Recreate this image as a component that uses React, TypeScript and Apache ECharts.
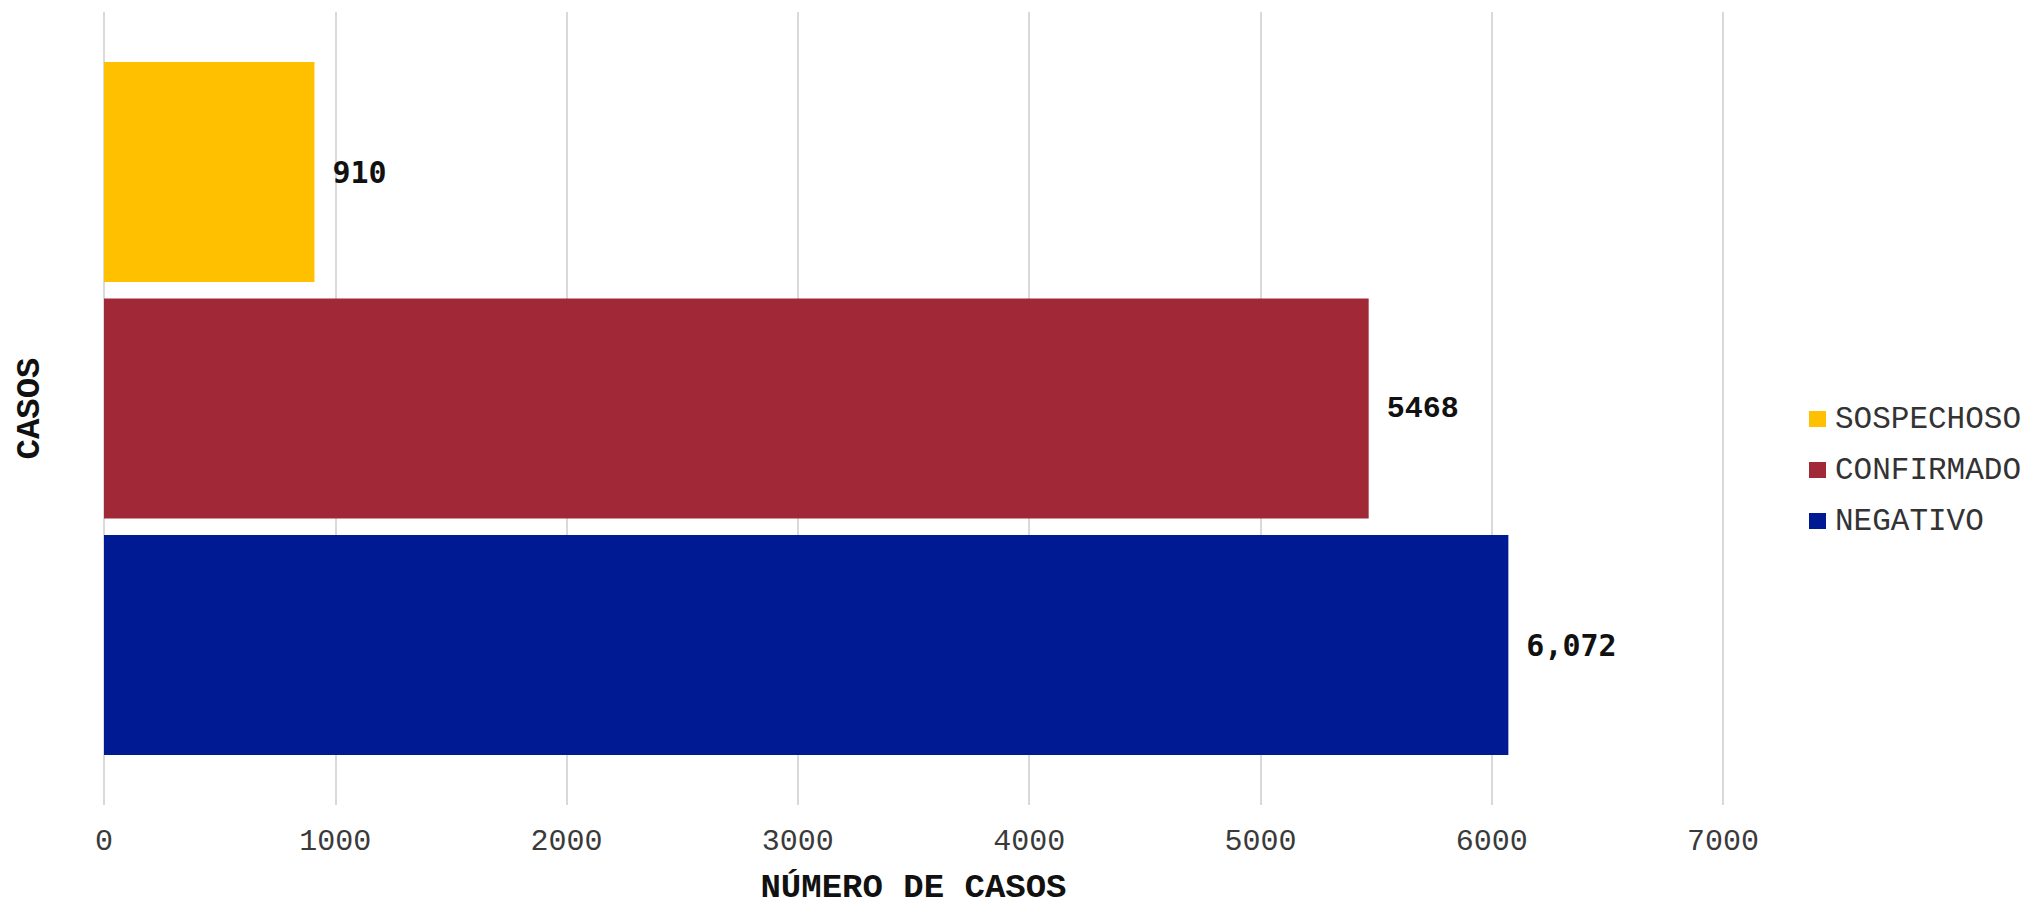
import React, { useEffect, useRef } from "react";
import * as echarts from "echarts";

const categories = ["CASOS"];
const seriesNames = ["SOSPECHOSO", "CONFIRMADO", "NEGATIVO"];
const seriesValues = [910, 5468, 6072];
const labelTexts = ["910", "5468", "6,072"];
const seriesColors = ["#FFC000", "#A12836", "#001A94"];
const labelFonts = ["DejaVu Sans Mono", "Liberation Mono", "DejaVu Sans Mono"];
const xTicks = [0, 1000, 2000, 3000, 4000, 5000, 6000, 7000];

export default function App() {
  const ref = useRef<HTMLDivElement>(null);
  useEffect(() => {
    if (!ref.current) return;
    const chart = echarts.init(ref.current, null, { renderer: "svg" });
    chart.setOption({
      animation: false,
      backgroundColor: "#ffffff",
      grid: { left: 104, right: 303, top: 12, bottom: 96, containLabel: false },
      legend: {
        orient: "vertical",
        left: 1804,
        top: 398,
        itemWidth: 17,
        itemHeight: 16,
        itemGap: 19,
        icon: "rect",
        data: seriesNames,
        textStyle: {
          fontFamily: "Liberation Mono",
          fontSize: 31,
          color: "#333333",
          lineHeight: 32,
          padding: [0, 0, 0, 4],
        },
      },
      xAxis: {
        type: "value",
        min: xTicks[0],
        max: xTicks[xTicks.length - 1],
        interval: 1000,
        name: "NÚMERO DE CASOS",
        nameLocation: "middle",
        nameGap: 66,
        nameTextStyle: {
          fontFamily: "Liberation Mono",
          fontWeight: "bold",
          fontSize: 34,
          color: "#111111",
        },
        axisLine: { show: false },
        axisTick: { show: false },
        axisLabel: {
          margin: 22,
          fontFamily: "Liberation Mono",
          fontSize: 30,
          color: "#3a3a3a",
          formatter: (v: number) => String(v),
        },
        splitLine: { show: true, lineStyle: { color: "#d9d9d9", width: 2 } },
      },
      yAxis: {
        type: "category",
        data: categories,
        name: "CASOS",
        nameLocation: "middle",
        nameGap: 57,
        nameRotate: 90,
        nameTextStyle: {
          fontFamily: "Liberation Mono",
          fontWeight: "bold",
          fontSize: 34,
          color: "#111111",
        },
        axisLine: { show: false },
        axisTick: { show: false },
        axisLabel: { show: false },
        splitLine: { show: false },
      },
      series: seriesNames.map((name, i) => ({
        type: "bar",
        name,
        data: [seriesValues[i]],
        barWidth: 220,
        barGap: "7.5%",
        itemStyle: { color: seriesColors[i] },
        label: {
          show: true,
          position: "right",
          distance: 18,
          formatter: () => labelTexts[i],
          fontFamily: labelFonts[i],
          fontWeight: "bold",
          fontSize: 30,
          color: "#111111",
        },
      })),
    });
    return () => chart.dispose();
  }, []);
  return (
    <div
      ref={ref}
      style={{ position: "fixed", left: 0, top: 0, width: 2026, height: 910 }}
    />
  );
}
